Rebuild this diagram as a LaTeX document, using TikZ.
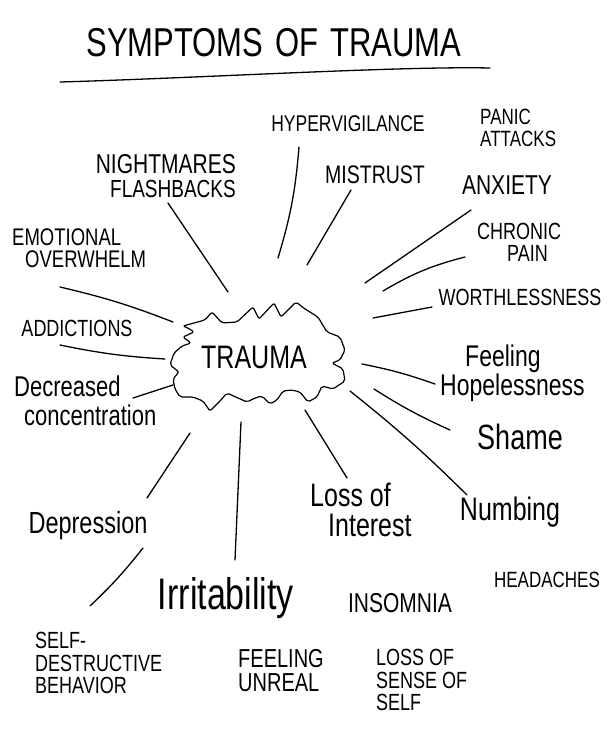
\documentclass[tikz,border=0pt]{standalone}
\usepackage{fontspec}
\setmainfont{Liberation Sans}
\newcommand{\fsz}[2]{\fontsize{#1}{#2}\selectfont}
\begin{document}
\begin{tikzpicture}[x=1pt,y=-1pt,
  lab/.style={inner sep=0pt, yscale=1.3, text=black},
  conn/.style={draw=black, line width=1.3pt, line cap=round},
  cloudline/.style={draw=black, line width=1.2pt, rounded corners=2pt, line join=round}]
\useasboundingbox[fill=white] (0,0) rectangle (610,737);

% title
\node[lab, font={\fsz{31}{31}}] (title) at (274,43) {SYMPTOMS\hspace{12pt}OF\hspace{12pt}TRAUMA};
\coordinate (ulA) at (60,82);
\coordinate (ulB) at (490,68);
\draw[conn] (ulA) .. controls (200,78) and (400,66) .. (ulB);

% cloud
\draw[cloudline] (183,326) -- (205,320) -- (212,312) -- (222,323) -- (237,322) -- (253,307)
  -- (259,319) -- (274,303) -- (281,317) -- (296,302) -- (305,309) -- (318,317) -- (327,332)
  -- (340,337) -- (345,350) -- (340,360) -- (332,363) -- (343,369) -- (345,381) -- (333,389)
  -- (322,386) -- (317,397) -- (308,402) -- (300,392) -- (292,390) -- (283,391) -- (277,400)
  -- (270,404) -- (262,396) -- (255,398) -- (247,402) -- (238,398) -- (227,393) -- (220,401)
  -- (210,411) -- (203,401) -- (193,397) -- (180,397) -- (175,389) -- (173,379) -- (179,372)
  -- (170,365) -- (174,353) -- (182,346) -- (191,343) -- (183,337) -- (194,332) -- (188,328) -- cycle;
\node[lab, font={\fsz{25}{25}}] (trauma) at (254,357) {TRAUMA};

% labels
\node[lab, font={\fsz{17.5}{17}}] (hyper) at (348,124) {HYPERVIGILANCE};
\node[lab, anchor=west, align=left, font={\fsz{17}{16.5}}] (panic) at (480,128) {PANIC\\ATTACKS};
\node[lab, anchor=east, align=right, font={\fsz{19}{19}}] (night) at (236,176) {{\fsz{21}{19}NIGHTMARES}\\FLASHBACKS};
\node[lab, font={\fsz{19.5}{19}}] (mistrust) at (375,175) {MISTRUST};
\node[lab, font={\fsz{21}{20}}] (anxiety) at (507,185) {ANXIETY};
\node[lab, anchor=west, align=left, font={\fsz{18.5}{17}}] (emo) at (12,248) {EMOTIONAL\\\hspace*{13pt}OVERWHELM};
\node[lab, anchor=west, align=left, font={\fsz{18}{17}}] (chronic) at (477,242) {CHRONIC\\\hspace*{30pt}PAIN};
\node[lab, font={\fsz{18}{18}}] (worth) at (520,297) {WORTHLESSNESS};
\node[lab, font={\fsz{18}{18}}] (addict) at (77,328) {ADDICTIONS};
\node[lab, anchor=west, align=left, font={\fsz{22}{22}}] (decr) at (14,401) {Decreased\\\hspace*{10pt}concentration};
\node[lab, anchor=west, align=left, font={\fsz{23}{22}}] (hope) at (440,373) {\hspace*{25pt}Feeling\\Hopelessness};
\node[lab, font={\fsz{27}{26}}] (shame) at (520,437) {Shame};
\node[lab, anchor=west, align=left, font={\fsz{25}{23}}] (lossint) at (310,510) {Loss of\\\hspace*{18pt}Interest};
\node[lab, font={\fsz{25}{24}}] (numb) at (510,512) {Numbing};
\node[lab, font={\fsz{23.5}{23}}] (depr) at (88,526) {Depression};
\node[lab, font={\fsz{34}{33}}] (irrit) at (226,598) {Irritability};
\node[lab, font={\fsz{21}{20}}] (insom) at (400,603) {INSOMNIA};
\node[lab, font={\fsz{17}{16}}] (head) at (547,580) {HEADACHES};
\node[lab, anchor=west, align=left, font={\fsz{18}{17}}] (selfd) at (35,663) {SELF-\\DESTRUCTIVE\\BEHAVIOR};
\node[lab, anchor=west, align=left, font={\fsz{20}{18.5}}] (unreal) at (238,671) {FEELING\\UNREAL};
\node[lab, anchor=west, align=left, font={\fsz{18}{17.5}}] (lossself) at (376,680) {LOSS OF\\SENSE OF\\SELF};

% connector end points
\coordinate (hyA) at (278,258);  \coordinate (hyB) at (299,147);
\coordinate (niA) at (228,292);  \coordinate (niB) at (168,203);
\coordinate (miA) at (307,265);  \coordinate (miB) at (351,190);
\coordinate (anA) at (365,283);  \coordinate (anB) at (471,210);
\coordinate (chA) at (383,291);  \coordinate (chB) at (465,257);
\coordinate (woA) at (373,318);  \coordinate (woB) at (432,307);
\coordinate (emA) at (173,322);  \coordinate (emB) at (60,287);
\coordinate (adA) at (165,359);  \coordinate (adB) at (60,345);
\coordinate (deA) at (173,385);  \coordinate (deB) at (133,398);
\coordinate (hoA) at (362,364);  \coordinate (hoB) at (435,384);
\coordinate (shA) at (374,389);  \coordinate (shB) at (450,430);
\coordinate (nuA) at (350,391);  \coordinate (nuB) at (467,495);
\coordinate (liA) at (305,410);  \coordinate (liB) at (347,478);
\coordinate (irA) at (241,422);  \coordinate (irB) at (235,560);
\coordinate (dpA) at (190,433);  \coordinate (dpB) at (147,498);
\coordinate (sdA) at (143,548);  \coordinate (sdB) at (90,606);

% connectors
\draw[conn] (hyA) to[bend right=6] (hyB);
\draw[conn] (niA) -- (niB);
\draw[conn] (miA) -- (miB);
\draw[conn] (anA) -- (anB);
\draw[conn] (chA) to[bend left=8] (chB);
\draw[conn] (woA) -- (woB);
\draw[conn] (emA) to[bend right=4] (emB);
\draw[conn] (adA) to[bend left=4] (adB);
\draw[conn] (deA) -- (deB);
\draw[conn] (hoA) to[bend left=4] (hoB);
\draw[conn] (shA) to[bend right=4] (shB);
\draw[conn] (nuA) to[bend left=3] (nuB);
\draw[conn] (liA) -- (liB);
\draw[conn] (irA) -- (irB);
\draw[conn] (dpA) -- (dpB);
\draw[conn] (sdA) to[bend left=4] (sdB);
\end{tikzpicture}
\end{document}
